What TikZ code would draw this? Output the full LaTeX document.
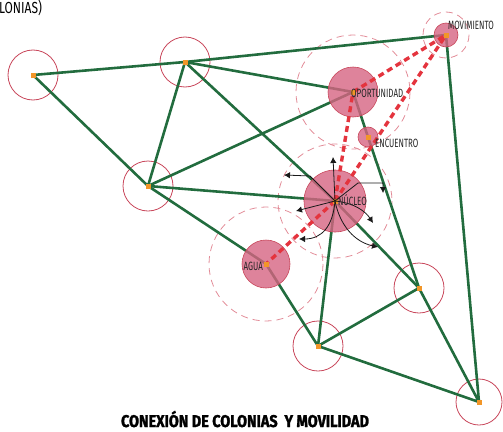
\documentclass[tikz,border=0pt]{standalone}
\usepackage{fontspec}
\setmainfont{Fira Sans}
\newfontfamily\etiquetafont[FakeStretch=0.66]{Fira Sans}
\newfontfamily\titulofont[FakeStretch=0.85,FakeBold=1.6]{Fira Sans}
\newfontfamily\supfont[FakeStretch=0.75]{Fira Sans}
\usepackage{tikz}
\usetikzlibrary{arrows.meta}

\definecolor{verde}{RGB}{34,108,62}
\definecolor{rojocol}{RGB}{200,70,90}
\definecolor{rosa}{RGB}{214,100,130}
\definecolor{rojoflujo}{RGB}{228,52,62}
\definecolor{rosaradio}{RGB}{226,140,152}
\definecolor{naranja}{RGB}{242,150,40}

\tikzset{
  colonia/.style={draw=rojocol,line width=0.8pt},
  enlace/.style={draw=verde,line width=2.6pt},
  flujo/.style={draw=rojoflujo,line width=3.4pt,dash pattern=on 6pt off 4pt},
  radio/.style={draw=rosaradio,line width=0.8pt,dash pattern=on 7pt off 5pt},
  polo/.style={fill=rosa,fill opacity=0.8,draw=rojocol,line width=0.6pt},
  marca/.style={fill=naranja},
  flecha/.style={-{Latex[length=6pt,width=6.5pt]},line width=0.8pt,black!90},
  etiq/.style={font=\etiquetafont\fontsize{12}{12}\selectfont,text=black!85,inner sep=0pt}
}

\begin{document}
\begin{tikzpicture}[x=1pt,y=-1pt]
  \useasboundingbox (0,0) rectangle (503,431);

  % colonias y polos
  \coordinate (A) at (33,75);
  \coordinate (B) at (185,62);
  \coordinate (C) at (148,186);
  \coordinate (M) at (446,35);
  \coordinate (O) at (353,92);
  \coordinate (E) at (368,137);
  \coordinate (N) at (335,201);
  \coordinate (G) at (266,264);
  \coordinate (D) at (419,288);
  \coordinate (F) at (318,346);
  \coordinate (H) at (479,402);

  % radios de influencia
  \foreach \p in {A,B,C,D,F}
    \draw[colonia] (\p) circle[radius=25];
  \draw[colonia] (H) circle[radius=23];
  \draw[radio] (M) circle[radius=23];
  \foreach \p in {O,N,G}
    \draw[radio] (\p) circle[radius=57];

  % conexiones entre colonias
  \draw[enlace] (A) -- (B) -- (M) -- (H);
  \draw[enlace] (A) -- (C) -- (B) -- (O);
  \draw[enlace] (B) -- (N);
  \draw[enlace] (C) -- (O);
  \draw[enlace] (C) -- (N);
  \draw[enlace] (C) -- (G) -- (F);
  \draw[enlace] (N) -- (F);
  \draw[enlace] (N) -- (D);
  \draw[enlace] (O) -- (E) -- (D);
  \draw[enlace] (F) -- (D) -- (H) -- (F);

  % polos
  \draw[polo] (M) circle[radius=12];
  \draw[polo] (O) circle[radius=25];
  \draw[polo] (E) circle[radius=10];
  \draw[polo] (N) circle[radius=31];
  \draw[polo] (G) circle[radius=24];

  % flujos
  \draw[flujo] (O) -- (M);
  \draw[flujo] (N) -- (M);
  \draw[flujo] (N) -- (O);
  \draw[flujo] (N) -- (G);

  \foreach \p in {A,B,C,M,O,E,N,G,D,F,H}
    \fill[marca] (\p) +(-2.5,-2.5) rectangle +(2.5,2.5);

  % movilidad desde el nucleo
  \draw[flecha] (N) -- (333,157);
  \draw[flecha] (N) -- (310,176) -- (284,175);
  \draw[flecha] (N) -- (358,183) -- (383,183) -- (383,193);
  \draw[flecha] (N) -- (296,211);
  \draw[flecha] (N) .. controls (355,203) and (366,212) .. (373,223);
  \draw[flecha] (N) .. controls (333,226) and (322,239) .. (299,239);
  \draw[flecha] (N) .. controls (340,226) and (355,242) .. (378,247);

  % textos
  \node[etiq,anchor=west] (tM) at (448,25) {MOVIMIENTO};
  \node[etiq,anchor=west] (tO) at (351,93) {OPORTUNIDAD};
  \node[etiq,anchor=west] (tE) at (375,143) {ENCUENTRO};
  \node[etiq,anchor=west] (tN) at (338,200) {NÚCLEO};
  \node[etiq,anchor=east] (tG) at (263,266) {AGUA};
  \node[font=\titulofont\bfseries\fontsize{17}{17}\selectfont,inner sep=0pt,anchor=base] (titulo) at (245,427) {CONEXIÓN DE COLONIAS\ \ Y MOVILIDAD};
  \node[font=\supfont\fontsize{16}{16}\selectfont,inner sep=0pt,anchor=base west] (sup) at (-1,13) {LONIAS)};
\end{tikzpicture}
\end{document}
